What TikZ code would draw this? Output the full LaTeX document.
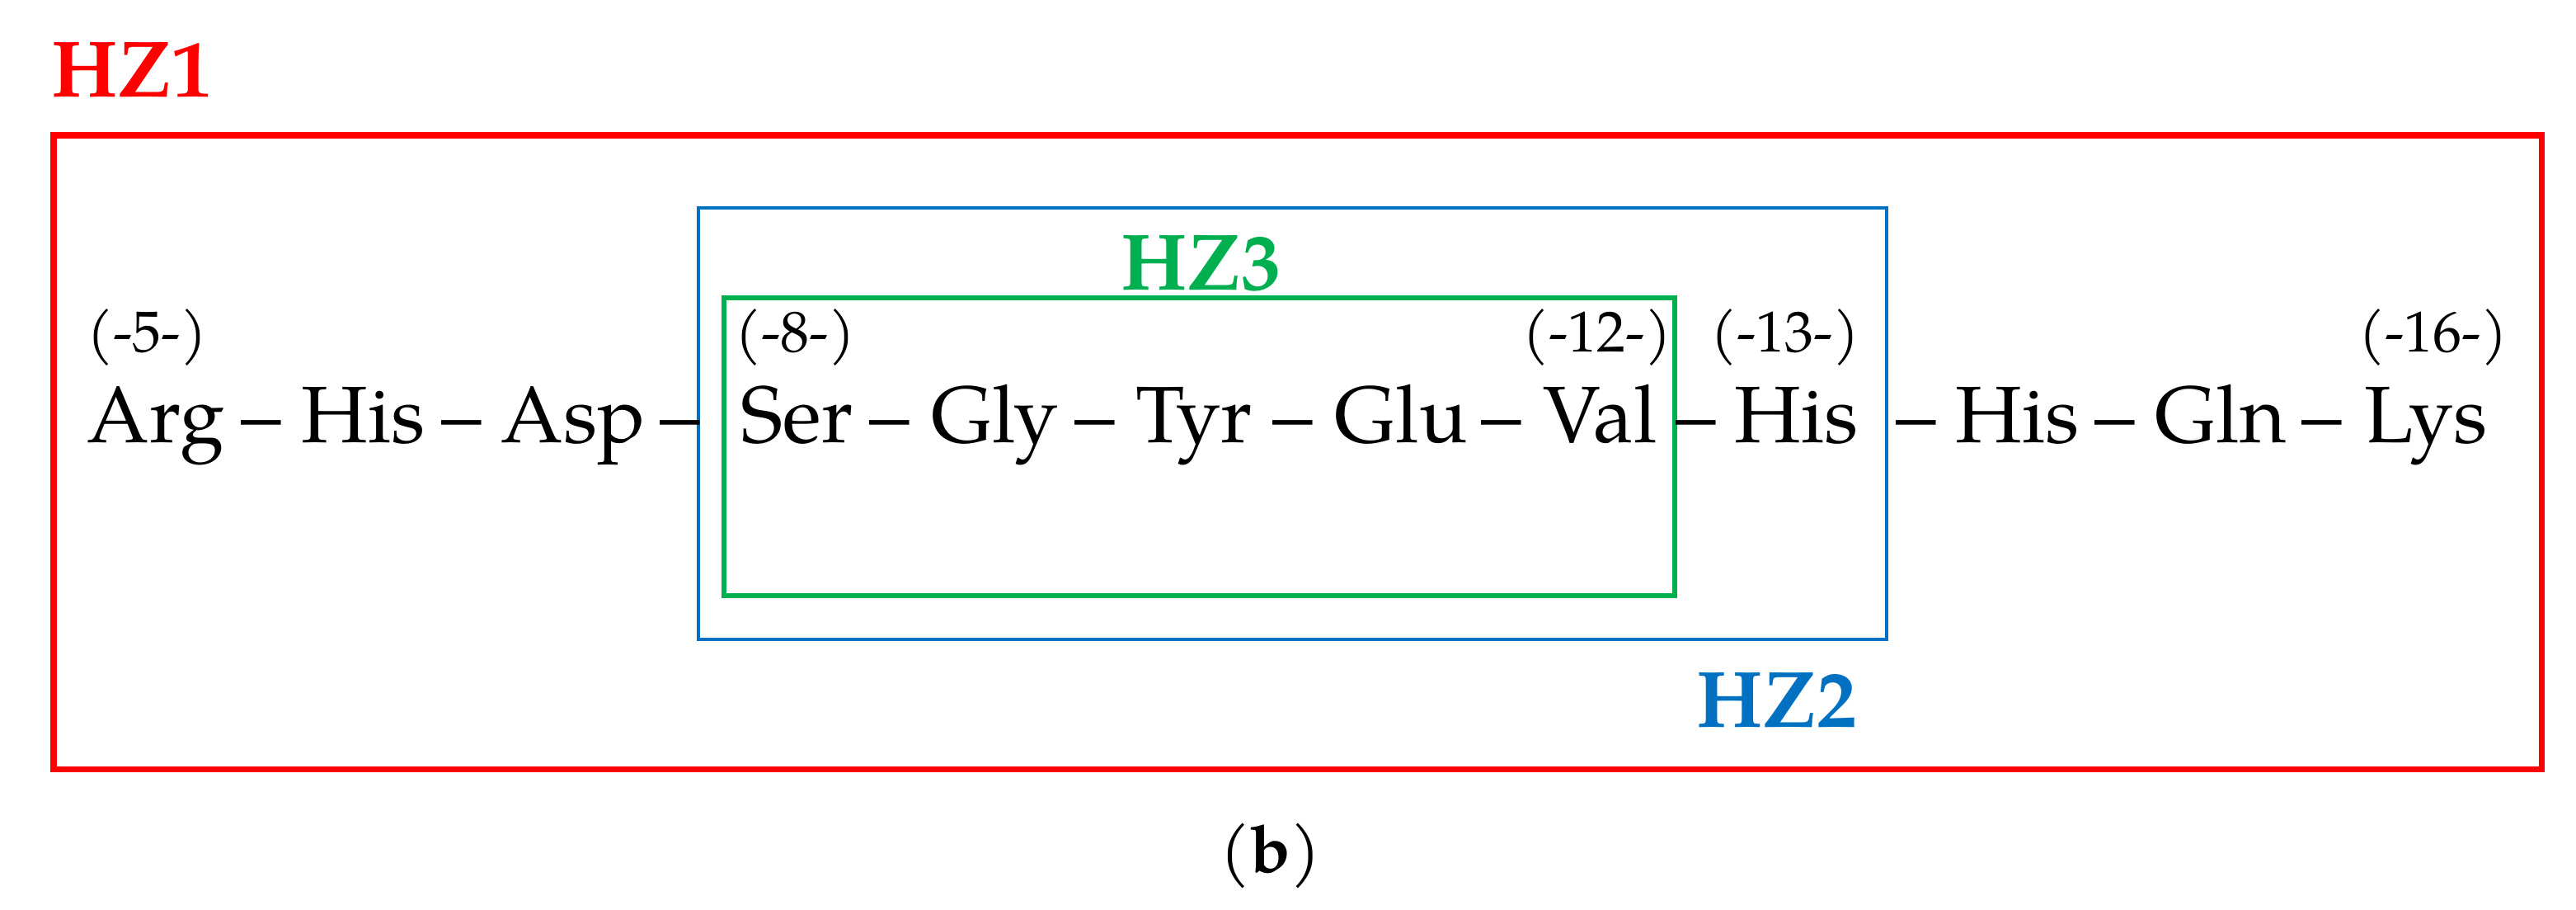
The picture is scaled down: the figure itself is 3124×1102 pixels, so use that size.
\documentclass[tikz,border=0pt]{standalone}
\usepackage{fontspec}
\setmainfont{texgyrepagella}[Extension=.otf, UprightFont=*-regular, BoldFont=*-bold, ItalicFont=*-italic, BoldItalicFont=*-bolditalic]
\usetikzlibrary{positioning}
\definecolor{hzred}{RGB}{255,0,0}
\definecolor{hzblue}{RGB}{0,112,192}
\definecolor{hzgreen}{RGB}{0,176,80}

\begin{document}
\begin{tikzpicture}[x=0.01cm, y=-0.01cm,
  res/.style={inner sep=0pt, anchor=base west, font=\fontsize{27.6}{30}\selectfont},
  bond/.style={inner sep=0pt, anchor=base, font=\fontsize{27.6}{30}\selectfont},
  resno/.style={inner sep=0pt, anchor=base west, font=\fontsize{19.9}{22}\selectfont},
  zlabel/.style={inner sep=0pt, anchor=base west, font=\fontsize{27.6}{30}\selectfont\bfseries},
  box1/.style={draw=hzred, line width=2pt},
  box2/.style={draw=hzblue, line width=1.3pt},
  box3/.style={draw=hzgreen, line width=1.7pt}]
  \def\by{536}
  \def\ny{426}

  % Fixed bounding box
  \path[use as bounding box] (0,0) rectangle (3124,1102);

  % Zone boxes
  \draw[box1] (65,164) rectangle (3082,932);
  \draw[box2] (847,252) rectangle (2288,775);
  \draw[box3] (878,361) rectangle (2031,722);

  % Zone labels
  \node[zlabel, text=hzred] (hz1) at (62,117) {HZ1};
  \node[zlabel, text=hzblue] (hz2) at (2057,881) {HZ2};
  \node[zlabel, text=hzgreen] (hz3) at (1359,351) {HZ3};

  % Residues
  \foreach \name/\xx [count=\i] in {Arg/105, His/365, Asp/607, Ser/898, Gly/1129, Tyr/1377,
      Glu/1618, Val/1871, His/2103, His/2371, Gln/2613, Lys/2867} {
    \node[res] (r\i) at (\xx,\by) {\name};
  }

  % Bonds between residues
  \foreach \xx [count=\i] in {317,560,825,1079,1328,1568,1821,2057,2324,2565,2816} {
    \node[bond] (d\i) at (\xx,\by) {–};
  }

  % Residue numbers
  \foreach \num/\xx in {5/105, 8/891, 12/1846, 13/2074, 16/2860} {
    \node[resno] (n\num) at (\xx,\ny) {(-\num-)};
  }

  % Caption
  \node[anchor=base, font=\fontsize{22.8}{25}\selectfont] (cap) at (1541,1057) {(\textbf{b})};

\end{tikzpicture}
\end{document}
